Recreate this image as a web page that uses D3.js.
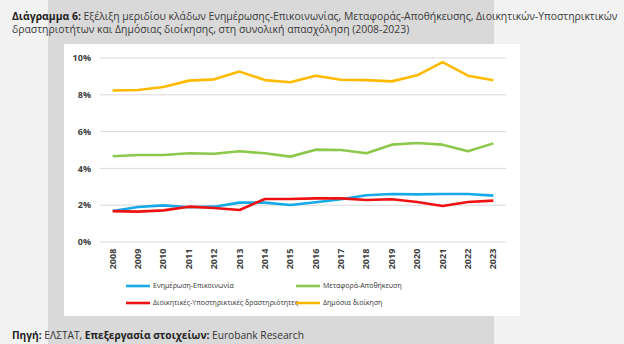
<!DOCTYPE html>
<html>
<head>
<meta charset="utf-8">
<script src="https://cdn.jsdelivr.net/npm/d3@7"></script>
<style>
  html, body { margin: 0; padding: 0; background: #f2f2f2; }
  svg { display: block; font-family: "Open Sans", "DejaVu Sans", sans-serif; }
</style>
</head>
<body>
<div id="chart"></div>
<script>
// Μερίδια κλάδων στη συνολική απασχόληση (%)
const years = ["2008","2009","2010","2011","2012","2013","2014","2015","2016","2017","2018","2019","2020","2021","2022","2023"];
const enimerosi  = [1.68, 1.90, 1.99, 1.89, 1.92, 2.14, 2.14, 2.01, 2.16, 2.32, 2.54, 2.61, 2.59, 2.61, 2.61, 2.52];
const metafora   = [4.66, 4.73, 4.73, 4.82, 4.80, 4.93, 4.82, 4.64, 5.02, 5.00, 4.82, 5.29, 5.38, 5.29, 4.93, 5.36];
const dioikitikes = [1.68, 1.65, 1.72, 1.92, 1.85, 1.74, 2.34, 2.34, 2.37, 2.37, 2.28, 2.32, 2.17, 1.96, 2.17, 2.25];
const dimosia    = [8.23, 8.26, 8.42, 8.77, 8.84, 9.26, 8.80, 8.68, 9.04, 8.82, 8.80, 8.73, 9.06, 9.78, 9.04, 8.79];
const yTicks = [0, 2, 4, 6, 8, 10];

const series = [
  { name: "Ενημέρωση-Επικοινωνία", values: enimerosi, color: "#16a9e8" },
  { name: "Μεταφορά-Αποθήκευση", values: metafora, color: "#8cc84b" },
  { name: "Διοικητικές-Υποστηρικτικές δραστηριότητες", values: dioikitikes, color: "#ee1111" },
  { name: "Δημόσια διοίκηση", values: dimosia, color: "#ffba00" }
];

const W = 624, H = 344;
const svg = d3.select("#chart").append("svg")
  .attr("width", W).attr("height", H);

// φόντο: γκρι λωρίδα και λευκό πλαίσιο γραφήματος
svg.append("rect").attr("x", 0).attr("y", 0).attr("width", W).attr("height", H).attr("fill", "#f2f2f2");
svg.append("rect").attr("x", 48).attr("y", 0).attr("width", 446).attr("height", H).attr("fill", "#d9d9d9");
svg.append("rect").attr("x", 64).attr("y", 44).attr("width", 456).attr("height", 272).attr("fill", "#ffffff");

// τίτλος
const title = svg.append("text").attr("x", 12).attr("y", 20)
  .attr("font-size", 10.4).attr("fill", "#3a3a3a");
title.append("tspan").attr("font-weight", "bold").attr("fill", "#222").text("Διάγραμμα 6:");
title.append("tspan").text(" Εξέλιξη μεριδίου κλάδων Ενημέρωσης-Επικοινωνίας, Μεταφοράς-Αποθήκευσης, Διοικητικών-Υποστηρικτικών");
svg.append("text").attr("x", 12).attr("y", 33)
  .attr("font-size", 10.4).attr("fill", "#3a3a3a")
  .text("δραστηριοτήτων και Δημόσιας διοίκησης, στη συνολική απασχόληση (2008-2023)");

// κλίμακες
const x = d3.scaleBand().domain(years).range([100, 506]);
const y = d3.scaleLinear().domain([0, 10]).range([242, 58]);

// οριζόντιες γραμμές πλέγματος
svg.append("g")
  .selectAll("line")
  .data(yTicks)
  .join("line")
  .attr("x1", 100).attr("x2", 506)
  .attr("y1", d => y(d)).attr("y2", d => y(d))
  .attr("stroke", "#d9d9d9").attr("stroke-width", 1);

// άξονας y
svg.append("g")
  .selectAll("text")
  .data(yTicks)
  .join("text")
  .attr("x", 91).attr("y", d => y(d))
  .attr("dy", "0.35em")
  .attr("text-anchor", "end")
  .attr("font-size", 9).attr("font-weight", "bold").attr("fill", "#404040")
  .text(d => d + "%");

// άξονας x (κάθετες ετικέτες)
svg.append("g")
  .selectAll("text")
  .data(years)
  .join("text")
  .attr("transform", d => `translate(${x(d) + x.bandwidth() / 2 + 3},259) rotate(-90)`)
  .attr("text-anchor", "middle")
  .attr("font-size", 9).attr("font-weight", "bold").attr("fill", "#404040")
  .text(d => d);

// γραμμές σειρών
const line = d3.line()
  .x((d, i) => x(years[i]) + x.bandwidth() / 2)
  .y(d => y(d));

svg.append("g")
  .selectAll("path")
  .data(series)
  .join("path")
  .attr("d", d => line(d.values))
  .attr("fill", "none")
  .attr("stroke", d => d.color)
  .attr("stroke-width", 2.6)
  .attr("stroke-linejoin", "round");

// υπόμνημα
const legend = svg.append("g")
  .selectAll("g")
  .data(series)
  .join("g")
  .attr("transform", (d, i) => `translate(${i % 2 === 0 ? 126 : 296},${i < 2 ? 286 : 303})`);

legend.append("line")
  .attr("x1", 0).attr("x2", 24).attr("y1", 0).attr("y2", 0)
  .attr("stroke", d => d.color).attr("stroke-width", 2.6);

legend.append("text")
  .attr("x", 27).attr("dy", "0.35em")
  .attr("font-size", 7).attr("fill", "#333")
  .text(d => d.name);

// πηγή
const src = svg.append("text").attr("x", 12).attr("y", 339)
  .attr("font-size", 10.2).attr("fill", "#333");
src.append("tspan").attr("font-weight", "bold").attr("fill", "#222").text("Πηγή:");
src.append("tspan").text(" ΕΛΣΤΑΤ, ");
src.append("tspan").attr("font-weight", "bold").attr("fill", "#222").text("Επεξεργασία στοιχείων:");
src.append("tspan").text(" Eurobank Research");
</script>
</body>
</html>
